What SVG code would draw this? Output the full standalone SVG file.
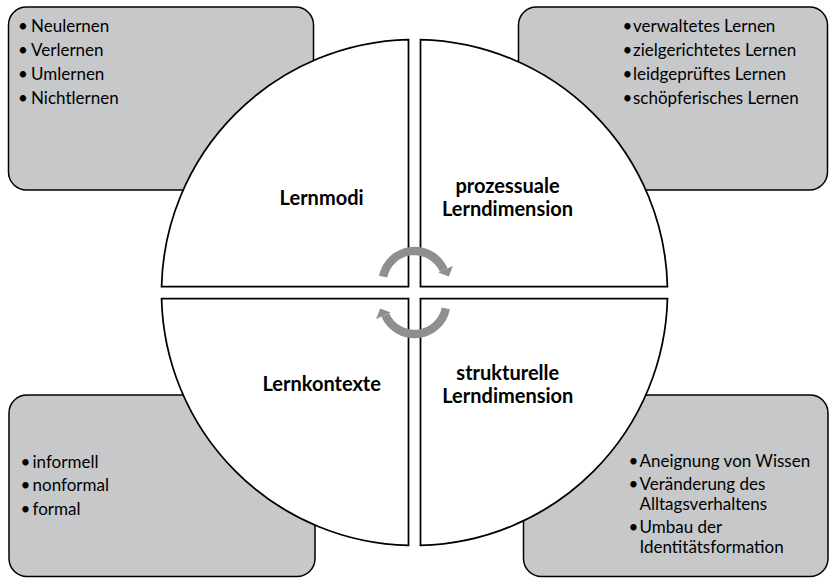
<svg xmlns="http://www.w3.org/2000/svg" xmlns:xlink="http://www.w3.org/1999/xlink" width="830" height="578" viewBox="0 0 830 578">
<style>
.box{fill:#c7c8ca;stroke:#000;stroke-width:1.5}
.quad{fill:#fff;stroke:#000;stroke-width:1.75;stroke-linejoin:miter}
.item{font-family:Lato,"Liberation Sans",sans-serif;font-size:17px;fill:#000}
.title{font-family:Lato,"Liberation Sans",sans-serif;font-size:20px;font-weight:bold;fill:#000;text-anchor:middle}
.arc{fill:none;stroke:#8f8f8f;stroke-width:8.4}
.head{fill:#8f8f8f;stroke:none}
</style>
<rect width="830" height="578" fill="#fff"/>
<g id="box-lernmodi">
<rect class="box" x="8.5" y="7" width="305" height="183" rx="18"/>
<text class="item" x="18" y="31.7">•</text><text class="item" x="31" y="31.7">Neulernen</text>
<text class="item" x="18" y="55.9">•</text><text class="item" x="31" y="55.9">Verlernen</text>
<text class="item" x="18" y="80.1">•</text><text class="item" x="31" y="80.1">Umlernen</text>
<text class="item" x="18" y="104.3">•</text><text class="item" x="31" y="104.3">Nichtlernen</text>
</g>
<g id="box-prozessual">
<rect class="box" x="518.5" y="7" width="309" height="183" rx="18"/>
<text class="item" x="622.5" y="31.7">•</text><text class="item" x="633" y="31.7">verwaltetes Lernen</text>
<text class="item" x="622.5" y="55.9">•</text><text class="item" x="633" y="55.9">zielgerichtetes Lernen</text>
<text class="item" x="622.5" y="80.1">•</text><text class="item" x="633" y="80.1">leidgeprüftes Lernen</text>
<text class="item" x="622.5" y="104.3">•</text><text class="item" x="633" y="104.3">schöpferisches Lernen</text>
</g>
<g id="box-lernkontexte">
<rect class="box" x="9" y="395" width="306" height="181.5" rx="18"/>
<text class="item" x="20.5" y="467.5">•</text><text class="item" x="32.5" y="467.5">informell</text>
<text class="item" x="20.5" y="491">•</text><text class="item" x="32.5" y="491">nonformal</text>
<text class="item" x="20.5" y="514.5">•</text><text class="item" x="32.5" y="514.5">formal</text>
</g>
<g id="box-strukturell">
<rect class="box" x="523.5" y="395" width="304.5" height="181.5" rx="18"/>
<text class="item" x="628.5" y="467">•</text><text class="item" x="639.5" y="467">Aneignung von Wissen</text>
<text class="item" x="628.5" y="490">•</text><text class="item" x="639.5" y="490">Veränderung des</text>
<text class="item" x="639.5" y="510">Alltagsverhaltens</text>
<text class="item" x="628.5" y="533">•</text><text class="item" x="639.5" y="533">Umbau der</text>
<text class="item" x="639.5" y="553">Identitätsformation</text>
</g>
<g id="quad-lernmodi">
<path class="quad" d="M408.5,286.5 L161.57,286.5 A253,253 0 0,1 408.5,39.57 Z"/>
<text class="title" x="321.6" y="205">Lernmodi</text>
</g>
<g id="quad-prozessual">
<path class="quad" d="M420.5,286.5 L420.5,39.57 A253,253 0 0,1 667.43,286.5 Z"/>
<text class="title" x="507.5" y="193">prozessuale</text>
<text class="title" x="507.5" y="216">Lerndimension</text>
</g>
<g id="quad-strukturell">
<path class="quad" d="M420.5,298.5 L667.43,298.5 A253,253 0 0,1 420.5,545.43 Z"/>
<text class="title" x="507.8" y="380">strukturelle</text>
<text class="title" x="507.8" y="403">Lerndimension</text>
</g>
<g id="quad-lernkontexte">
<path class="quad" d="M408.5,298.5 L408.5,545.43 A253,253 0 0,1 161.57,298.5 Z"/>
<text class="title" x="321.7" y="391">Lernkontexte</text>
</g>
<g id="connectors">
<g id="arrow-top">
<path class="arc" d="M383.13,276.68 A32,32 0 0,1 443.73,269.98"/>
<polygon class="head" points="438.2,272.4 452.9,265.9 448.8,276.5"/>
</g>
<use xlink:href="#arrow-top" href="#arrow-top" transform="rotate(180 414.5 292.5)"/>
</g>
</svg>
